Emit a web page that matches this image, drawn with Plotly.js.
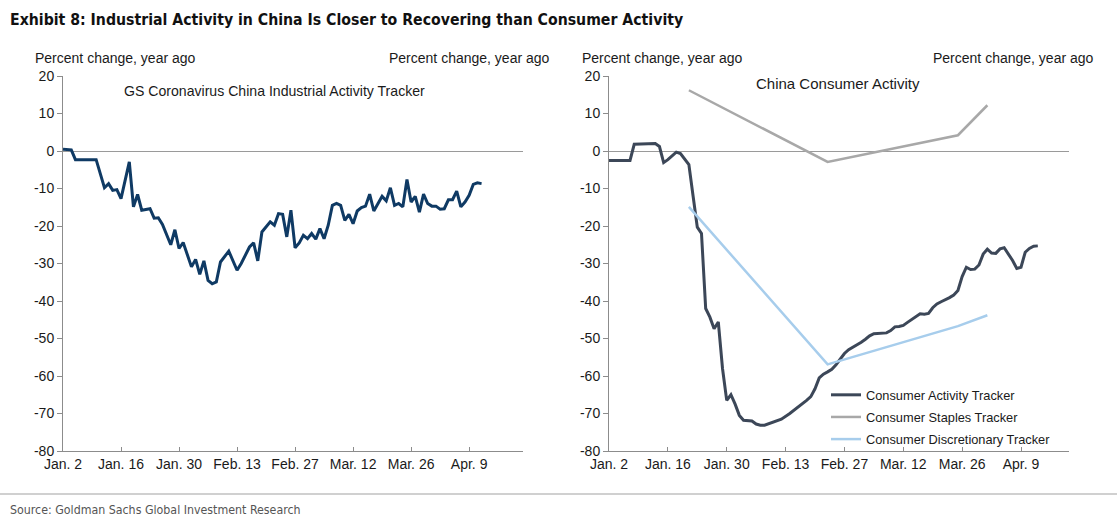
<!DOCTYPE html>
<html>
<head>
<meta charset="utf-8">
<script src="https://cdn.plot.ly/plotly-3.0.1.min.js"></script>
<style>
html,body{margin:0;padding:0;background:#fff;}
#chart{width:1117px;height:517px;}
</style>
</head>
<body>
<div id="chart"></div>
<script>
// ---------------- DATA ----------------
const indDates = ["2020-01-02","2020-01-03","2020-01-04","2020-01-05","2020-01-10","2020-01-12","2020-01-13","2020-01-14","2020-01-15","2020-01-16",
"2020-01-18","2020-01-19","2020-01-20","2020-01-21","2020-01-23","2020-01-24","2020-01-25","2020-01-26","2020-01-28","2020-01-29",
"2020-01-30","2020-01-31","2020-02-02","2020-02-03","2020-02-04","2020-02-05","2020-02-06","2020-02-07","2020-02-08","2020-02-09",
"2020-02-11","2020-02-13","2020-02-14","2020-02-16","2020-02-17","2020-02-18","2020-02-19","2020-02-21","2020-02-22","2020-02-23",
"2020-02-24","2020-02-25","2020-02-26","2020-02-27","2020-02-28","2020-02-29","2020-03-01","2020-03-02","2020-03-03","2020-03-04",
"2020-03-05","2020-03-06","2020-03-07","2020-03-08","2020-03-09","2020-03-10","2020-03-11","2020-03-12","2020-03-13","2020-03-14",
"2020-03-15","2020-03-16","2020-03-17","2020-03-19","2020-03-20","2020-03-21","2020-03-22","2020-03-23","2020-03-24","2020-03-25",
"2020-03-26","2020-03-27","2020-03-28","2020-03-29","2020-03-30","2020-03-31","2020-04-01","2020-04-02","2020-04-03","2020-04-04",
"2020-04-05","2020-04-06","2020-04-07","2020-04-08","2020-04-09","2020-04-10","2020-04-11","2020-04-12"];
const indValues = [0.5,0.5,0.3,-2.3,-2.3,-9.8,-8.7,-10.5,-10.3,-12.7,
-2.9,-14.9,-11.6,-15.8,-15.4,-17.9,-17.8,-19.6,-25,-21,
-26,-24.4,-30.9,-28.9,-32.9,-29.3,-34.5,-35.4,-34.9,-29.6,
-26.7,-31.8,-30,-25.6,-24.5,-29.3,-21.6,-18.9,-19.8,-16.7,
-16.9,-22.9,-15.8,-25.8,-24.5,-22.5,-23.4,-22,-23.5,-20.7,
-23.4,-19.8,-14.5,-14,-14.5,-18.5,-16.9,-19.4,-16,-15.1,
-14.7,-11.5,-16,-12.1,-13.3,-9.8,-14.5,-14,-14.9,-7.6,
-13.6,-12.1,-16.3,-11.5,-14,-14.7,-14.7,-15.5,-15.4,-13,
-13,-10.7,-14.9,-13.6,-11.8,-8.9,-8.5,-8.7];

const consDates = ["2020-01-02","2020-01-07","2020-01-08","2020-01-13","2020-01-14","2020-01-15","2020-01-16","2020-01-18","2020-01-19","2020-01-20",
"2020-01-21","2020-01-22","2020-01-23","2020-01-24","2020-01-25","2020-01-26","2020-01-27","2020-01-28","2020-01-29","2020-01-30",
"2020-01-31","2020-02-01","2020-02-02","2020-02-03","2020-02-04","2020-02-05","2020-02-06","2020-02-07","2020-02-08","2020-02-09",
"2020-02-10","2020-02-12","2020-02-14","2020-02-16","2020-02-18","2020-02-19","2020-02-20","2020-02-21","2020-02-22","2020-02-23",
"2020-02-24","2020-02-25","2020-02-26","2020-02-27","2020-02-28","2020-02-29","2020-03-01","2020-03-02","2020-03-03","2020-03-04",
"2020-03-05","2020-03-06","2020-03-07","2020-03-08","2020-03-09","2020-03-10","2020-03-11","2020-03-12","2020-03-13","2020-03-14",
"2020-03-15","2020-03-16","2020-03-17","2020-03-18","2020-03-19","2020-03-20","2020-03-21","2020-03-22","2020-03-23","2020-03-24",
"2020-03-25","2020-03-26","2020-03-27","2020-03-28","2020-03-29","2020-03-30","2020-03-31","2020-04-01","2020-04-02","2020-04-03",
"2020-04-04","2020-04-05","2020-04-06","2020-04-07","2020-04-08","2020-04-09","2020-04-10","2020-04-11","2020-04-12","2020-04-13"];
const consValues = [-2.5,-2.5,1.8,2.0,1.2,-3.1,-2.3,-0.3,-0.7,-2,
-3.6,-12,-20.3,-22,-42,-44.3,-47.4,-45.6,-58,-66.5,
-65,-67.5,-70.5,-71.8,-72,-72,-72.8,-73.1,-73.1,-72.7,
-72.4,-71.5,-70,-68.3,-66.5,-65.5,-63.4,-60.5,-59.5,-58.9,
-58.2,-57,-55.6,-54,-53,-52.4,-51.6,-51,-50.2,-49.3,
-48.7,-48.7,-48.7,-48.5,-47.9,-46.9,-46.8,-46.5,-45.7,-45,
-44.3,-43.4,-43.5,-43.3,-41.8,-40.8,-40.2,-39.7,-39.1,-38.4,
-37.2,-33.5,-31,-31.6,-31.5,-30.4,-27.5,-26.2,-27.2,-27.3,
-26.1,-25.8,-27.5,-29.2,-31.3,-31,-27,-26,-25.4,-25.3];

const stapDates = ["2020-01-21","2020-02-23","2020-03-25","2020-04-01"];
const stapValues = [16.2,-2.9,4.2,12.2];

const discDates = ["2020-01-21","2020-02-23","2020-03-25","2020-04-01"];
const discValues = [-14.9,-56.9,-46.7,-43.8];

const seriesNames = ["Consumer Activity Tracker","Consumer Staples Tracker","Consumer Discretionary Tracker"];
const yTickVals = [20,10,0,-10,-20,-30,-40,-50,-60,-70,-80];
const yTickText = ["20","10","0","-10","-20","-30","-40","-50","-60","-70","-80"];
const tickFormat = "%b. %-d";
const yTitle = "Percent change, year ago";
const leftTitle = "GS Coronavirus China Industrial Activity Tracker";
const rightTitle = "China Consumer Activity";
const mainTitle = "Exhibit 8: Industrial Activity in China Is Closer to Recovering than Consumer Activity";
const sourceText = "Source: Goldman Sachs Global Investment Research";

// ---------------- CHART ----------------
const W = 1117, H = 517;
const M_TOP = 76, M_BOT = 66;
const plotH = H - M_TOP - M_BOT;
const px = x => x / W;
const py = y => (H - M_BOT - y) / plotH;

const FONT = "Liberation Sans, Arial, Helvetica, sans-serif";
const NARROW = "Liberation Sans Narrow, Arial Narrow, DejaVu Sans Condensed, sans-serif";
const AX = "#8c8c8c";
const DAY = 86400000;

function yAxis(extra){
  return Object.assign({
    range:[-80,20], tickmode:"array", tickvals:yTickVals, ticktext:yTickText, showgrid:false,
    zeroline:true, zerolinecolor:"#9a9a9a", zerolinewidth:1,
    showline:true, linecolor:AX, linewidth:1,
    ticks:"outside", ticklen:5, tickcolor:AX,
    tickfont:{family:FONT,size:14,color:"#1a1a1a"}, fixedrange:true
  }, extra);
}
function xAxis(extra){
  return Object.assign({
    type:"date", tick0:"2020-01-02", dtick:14*DAY, tickformat:tickFormat,
    showgrid:false, zeroline:false, showline:true, linecolor:AX, linewidth:1,
    ticks:"inside", ticklen:4, tickcolor:AX,
    tickfont:{family:FONT,size:14,color:"#1a1a1a"}, fixedrange:true
  }, extra);
}

const traces = [
  {x:indDates, y:indValues, xaxis:"x", yaxis:"y", type:"scatter", mode:"lines",
   line:{color:"#0f3a64", width:3}, showlegend:false, hoverinfo:"skip"},
  {x:consDates, y:consValues, xaxis:"x2", yaxis:"y3", type:"scatter", mode:"lines",
   name:seriesNames[0], legendgroup:"a", line:{color:"#3c4758", width:3}},
  {x:stapDates, y:stapValues, xaxis:"x2", yaxis:"y3", type:"scatter", mode:"lines",
   name:seriesNames[1], legendgroup:"b", line:{color:"#a8a8a8", width:2.5}},
  {x:discDates, y:discValues, xaxis:"x2", yaxis:"y3", type:"scatter", mode:"lines",
   name:seriesNames[2], legendgroup:"c", line:{color:"#a7cdec", width:2.5}}
];

const layout = {
  width:W, height:H,
  margin:{l:0,r:0,t:M_TOP,b:M_BOT,pad:0},
  paper_bgcolor:"#fff", plot_bgcolor:"rgba(0,0,0,0)",
  font:{family:FONT, color:"#1a1a1a"},
  xaxis: xAxis({domain:[px(63),px(523)], anchor:"y", range:["2020-01-02","2020-04-22"]}),
  yaxis: yAxis({anchor:"x", side:"left"}),
  yaxis2: yAxis({anchor:"x", overlaying:"y", side:"right", zeroline:false}),
  xaxis2: xAxis({domain:[px(609),px(1069)], anchor:"y3", range:["2020-01-02","2020-04-20 10:00"]}),
  yaxis3: yAxis({anchor:"x2", side:"left"}),
  yaxis4: yAxis({anchor:"x2", overlaying:"y3", side:"right", zeroline:false}),
  showlegend:true,
  legend:{x:px(826), y:py(380), xanchor:"left", yanchor:"top",
    bgcolor:"rgba(255,255,255,0)", borderwidth:0,
    font:{family:FONT,size:12.8,color:"#1a1a1a"},
    traceorder:"grouped", tracegroupgap:2.5, itemwidth:30},
  annotations:[
    {text:"<b>" + mainTitle + "</b>", xref:"paper", yref:"paper", x:px(8), y:py(19), xanchor:"left", yanchor:"middle",
     showarrow:false, font:{family:NARROW, size:15.7, color:"#111"}},
    {text:yTitle, xref:"paper", yref:"paper", x:px(33), y:py(58), xanchor:"left", yanchor:"middle", showarrow:false, font:{size:14}},
    {text:yTitle, xref:"paper", yref:"paper", x:px(552), y:py(58), xanchor:"right", yanchor:"middle", showarrow:false, font:{size:14}},
    {text:yTitle, xref:"paper", yref:"paper", x:px(580), y:py(58), xanchor:"left", yanchor:"middle", showarrow:false, font:{size:14}},
    {text:yTitle, xref:"paper", yref:"paper", x:px(1096), y:py(58), xanchor:"right", yanchor:"middle", showarrow:false, font:{size:14}},
    {text:leftTitle, xref:"paper", yref:"paper", x:px(274), y:py(91), xanchor:"center", yanchor:"middle", showarrow:false, font:{size:14.1}},
    {text:rightTitle, xref:"paper", yref:"paper", x:px(838), y:py(83), xanchor:"center", yanchor:"middle", showarrow:false, font:{size:15}},
    {text:sourceText, xref:"paper", yref:"paper", x:px(8), y:py(510), xanchor:"left", yanchor:"middle", showarrow:false,
     font:{family:NARROW, size:12.3, color:"#555"}}
  ],
  shapes:[
    {type:"line", xref:"paper", yref:"paper", x0:0, x1:1, y0:py(494), y1:py(494), line:{color:"#c0c0c0", width:1.5}}
  ]
};

Plotly.newPlot("chart", traces, layout, {displayModeBar:false, staticPlot:true});
</script>
</body>
</html>
